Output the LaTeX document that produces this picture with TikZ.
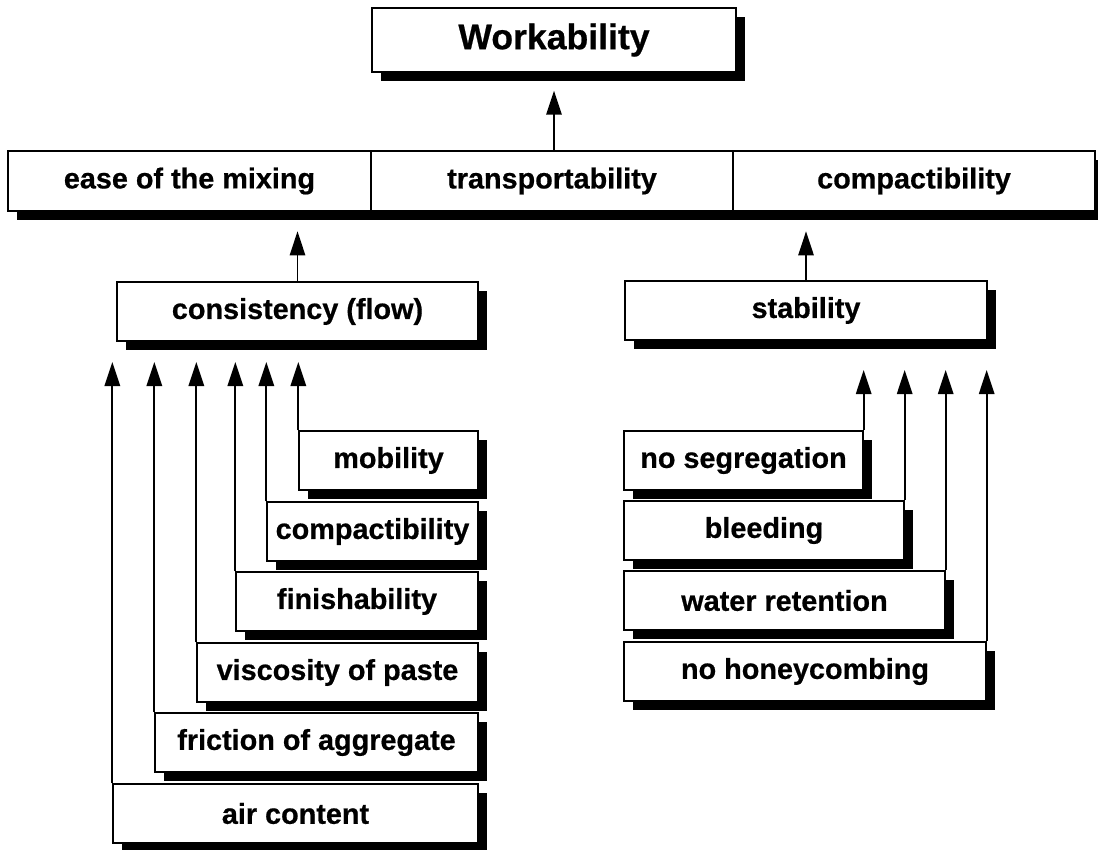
\documentclass[tikz,border=0pt]{standalone}
\usepackage{fontspec}
\setmainfont{Liberation Sans}
\newfontfamily\heavy{Liberation Sans Bold}[FakeBold=0.6]
\usetikzlibrary{shadows,arrows.meta,calc}
\tikzset{
  box/.style={draw, line width=1pt, fill=white, inner sep=0pt,
    font=\heavy\fontsize{21.6}{24}\selectfont,
    minimum height=44.25pt,
    drop shadow={shadow xshift=7pt, shadow yshift=-7pt, fill=black, opacity=1}},
  arr/.style={line width=1.4pt, -{Triangle[length=18pt,width=11.5pt]}}
}
\begin{document}
\begin{tikzpicture}[x=0.75pt,y=-0.75pt]
\useasboundingbox (0,0) rectangle (1098,849);
% top
\node[box, minimum width=273pt, minimum height=48pt, font=\heavy\fontsize{26.7}{30}\selectfont] (work) at (554,40) {Workability};
% row
\node[box, minimum width=272.25pt, minimum height=45pt] (ease) at (189.5,181) {ease of the mixing};
\node[box, minimum width=271.5pt, minimum height=45pt] (trans) at (552,181) {transportability};
\node[box, minimum width=271.5pt, minimum height=45pt] (compr) at (914,181) {compactibility};
% second level
\node[box, minimum width=270.75pt] (cons) at (297.5,311.5) {consistency (flow)};
\node[box, minimum width=271.5pt] (stab) at (806,310.5) {stability};
% left stack
\node[box, minimum width=134.25pt] (mob) at (388.5,460.5) {mobility};
\node[box, minimum width=158.25pt] (comp) at (372.5,531.5) {compactibility};
\node[box, minimum width=181.5pt] (fin) at (357,601.5) {finishability};
\node[box, minimum width=210.75pt] (visc) at (337.5,672.5) {viscosity of paste};
\node[box, minimum width=242.25pt] (fric) at (316.5,742.5) {friction of aggregate};
\node[box, minimum width=273.75pt] (air) at (295.5,813.5) {air content};
% right stack
\node[box, minimum width=179.25pt] (seg) at (743.5,460.5) {no segregation};
\node[box, minimum width=210pt] (bleed) at (764,530.5) {bleeding};
\node[box, minimum width=240.75pt] (water) at (784.5,600.5) {water retention};
\node[box, minimum width=271.5pt] (honey) at (805,671.5) {no honeycombing};
% tip coordinates
\coordinate (tipL) at (0,362);
\coordinate (tipR) at (0,370);
% arrows
\draw[arr] (work.south |- trans.north) -- ($(work.south)+(0,18)$);
\draw[arr] (cons.north) -- ++(0,-50);
\draw[arr] (stab.north) -- ++(0,-49);
\foreach \n in {mob,comp,fin,visc,fric,air}
  \draw[arr] (\n.north west) -- (\n.north west |- tipL);
\foreach \n in {seg,bleed,water,honey}
  \draw[arr] (\n.north east) -- (\n.north east |- tipR);
\end{tikzpicture}
\end{document}
